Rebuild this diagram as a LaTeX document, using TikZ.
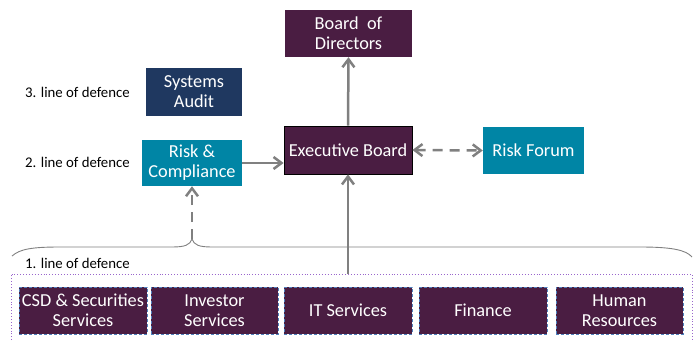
\documentclass[tikz,border=0pt]{standalone}
\usepackage{fontspec}
\setmainfont{Carlito}
\usetikzlibrary{arrows.meta}
\definecolor{plum}{RGB}{74,29,66}
\definecolor{navy}{RGB}{31,56,96}
\definecolor{teal}{RGB}{0,133,165}
\definecolor{conn}{RGB}{128,128,128}
\definecolor{bluedash}{RGB}{79,129,189}
\definecolor{dotpurple}{RGB}{153,102,204}
\begin{document}
\begin{tikzpicture}[x=1pt,y=-1pt,
  boxbase/.style={inner sep=0pt,align=center,text=white,font=\fontsize{18.3}{20}\selectfont},
  plumbox/.style={boxbase,fill=plum},
  execbox/.style={boxbase,fill=plum,draw=black,line width=0.8pt},
  navybox/.style={boxbase,fill=navy},
  tealbox/.style={boxbase,fill=teal},
  unitbox/.style={boxbase,fill=plum,draw=bluedash,densely dashed,line width=0.5pt,minimum width=127pt,minimum height=47pt},
  lbl/.style={inner sep=0pt,anchor=west,font=\fontsize{14.8}{17}\selectfont},
  conline/.style={draw=conn,line width=2.5pt,-{Straight Barb[length=8pt,width=12pt,line width=2.5pt]}},
  dashline/.style={conline,dash pattern=on 10pt off 7pt},
  brace/.style={draw=conn,line width=0.9pt},
  dotbox/.style={draw=dotpurple,dotted,line width=0.9pt}
]
\useasboundingbox (0,0) rectangle (699,342);

% top nodes
\node[plumbox,minimum width=127pt,minimum height=47pt] (board) at (348.5,33.5) {Board\ \ of\\Directors};
\node[navybox,minimum width=96pt,minimum height=48pt] (audit) at (194,92) {Systems\\Audit};
\node[tealbox,minimum width=100pt,minimum height=46pt] (rc) at (192,163) {Risk \&\\Compliance};
\node[execbox,minimum width=128pt,minimum height=48pt] (exec) at (348,150) {Executive Board};
\node[tealbox,minimum width=101pt,minimum height=47pt] (rf) at (533.5,150.5) {Risk Forum};

% labels
\node[lbl] (l3) at (25,92) {3. line of defence};
\node[lbl] (l2) at (25,162) {2. line of defence};
\node[lbl] (l1) at (25,263) {1. line of defence};

% bottom units
\node[unitbox,minimum width=128pt] (csd) at (83,310.5) {CSD \& Securities\\Services};
\node[unitbox] (inv) at (214.5,310.5) {Investor\\Services};
\node[unitbox,minimum width=128pt] (it) at (348,310.5) {IT Services};
\node[unitbox,minimum width=128pt] (fin) at (483,310.5) {Finance};
\node[unitbox] (hr) at (619.5,310.5) {Human\\Resources};

% dotted frame
\draw[dotbox] (11,343) -- (11,274) -- (692,274) -- (692,343);
\coordinate (frametop) at (348,274);

% brace
\coordinate (tip) at (192,239);
\draw[brace] (12,256) .. controls (20,249) and (32,247) .. (60,247) -- (172,247)
  .. controls (185,247) and (190,245) .. (tip)
  .. controls (194,245) and (199,247) .. (212,247) -- (640,247)
  .. controls (672,247) and (686,250) .. (692,257);

% connectors
\draw[conline] (frametop) -- (exec.south);
\draw[conline] (exec.north) -- (board.south);
\draw[conline] (rc.east) -- (rc.east -| exec.west);
\draw[dashline,{Straight Barb[length=8pt,width=12pt,line width=2.5pt]}-{Straight Barb[length=8pt,width=12pt,line width=2.5pt]}] (exec.east) -- (rf.west);
\draw[dashline] (tip) -- (rc.south);
\end{tikzpicture}
\end{document}
